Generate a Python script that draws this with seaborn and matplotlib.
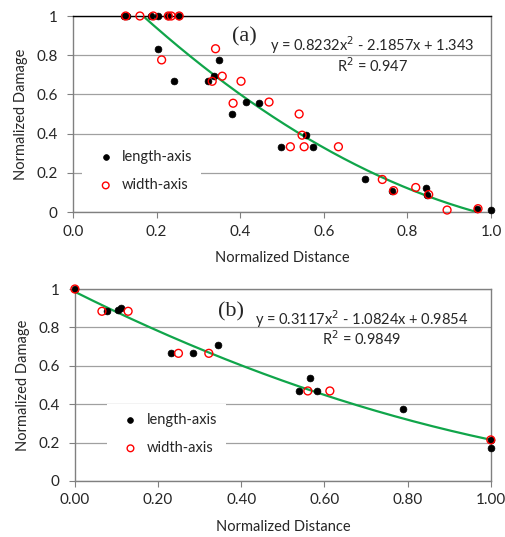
import numpy as np
import pandas as pd
import matplotlib
matplotlib.use("Agg")
import matplotlib.pyplot as plt
import seaborn as sns

sns.set_style("white")
plt.rcParams['font.family'] = ['Lato', 'DejaVu Sans']
plt.rcParams['font.size'] = 10.5

# ---- data panel (a)
a_len_x = [0.122, 0.128, 0.186, 0.203, 0.228, 0.254, 0.203, 0.242, 0.323, 0.338, 0.350, 0.381,
           0.413, 0.445, 0.498, 0.557, 0.573, 0.699, 0.764, 0.845, 0.847, 0.966, 1.000]
a_len_y = [1, 1, 1, 1, 1, 1, 0.833, 0.667, 0.667, 0.693, 0.776, 0.500,
           0.561, 0.555, 0.333, 0.392, 0.333, 0.166, 0.109, 0.125, 0.089, 0.017, 0.010]
a_wid_x = [0.126, 0.160, 0.192, 0.228, 0.235, 0.254, 0.212, 0.341, 0.333, 0.357, 0.402, 0.383,
           0.469, 0.541, 0.548, 0.520, 0.553, 0.635, 0.740, 0.767, 0.820, 0.851, 0.895, 0.969]
a_wid_y = [1, 1, 1, 1, 1, 1, 0.776, 0.833, 0.667, 0.693, 0.667, 0.555,
           0.561, 0.500, 0.392, 0.333, 0.333, 0.333, 0.166, 0.109, 0.125, 0.089, 0.010, 0.017]
a_coef = [0.8232, -2.1857, 1.343]
a_range = [0.16, 0.962]
a_eq = "y = 0.8232x$^{2}$ - 2.1857x + 1.343"
a_r2 = "R$^{2}$ = 0.947"

# ---- data panel (b)
b_len_x = [0.0, 0.078, 0.104, 0.111, 0.231, 0.283, 0.345, 0.539, 0.566, 0.582, 0.788, 1.0, 1.0]
b_len_y = [1.0, 0.884, 0.891, 0.901, 0.665, 0.665, 0.710, 0.469, 0.535, 0.469, 0.375, 0.172, 0.214]
b_wid_x = [0.0, 0.065, 0.128, 0.249, 0.322, 0.560, 0.613, 1.0]
b_wid_y = [1.0, 0.884, 0.884, 0.665, 0.665, 0.469, 0.469, 0.214]
b_coef = [0.3117, -1.0824, 0.9854]
b_range = [0.0, 1.0]
b_eq = "y = 0.3117x$^{2}$ - 1.0824x + 0.9854"
b_r2 = "R$^{2}$ = 0.9849"


def panel(ax, lx, ly, wx, wy, coef, rng, label, eq, r2, xfmt, lab_pos, eq_pos, r2_y, leg_anchor):
    xs = np.linspace(rng[0], rng[1], 200)
    ys = np.polyval(coef, xs)
    sns.lineplot(x=xs, y=ys, ax=ax, color='#10a54a', lw=1.6, zorder=2)
    sns.scatterplot(x=lx, y=ly, ax=ax, color='black', s=24, edgecolor='black',
                    linewidth=0.5, label='length-axis', zorder=3, clip_on=False)
    sns.scatterplot(x=wx, y=wy, ax=ax, facecolor='none', edgecolor='red', s=32,
                    linewidth=1.0, label='width-axis', zorder=4, clip_on=False)
    ax.set_xlim(0, 1)
    ax.set_ylim(0, 1)
    ax.set_yticks([0, 0.2, 0.4, 0.6, 0.8, 1])
    ax.set_yticklabels(['0', '0.2', '0.4', '0.6', '0.8', '1'])
    ax.set_xticks([0, 0.2, 0.4, 0.6, 0.8, 1.0])
    ax.set_xticklabels([xfmt.format(v) for v in [0, 0.2, 0.4, 0.6, 0.8, 1.0]])
    ax.grid(axis='y', color='#a0a0a0', lw=0.9)
    ax.set_axisbelow(True)
    for s in ax.spines.values():
        s.set_color('#808080')
        s.set_linewidth(1.0)
    ax.tick_params(axis='both', direction='out', length=4, color='#808080',
                   bottom=True, left=True, labelsize=11)
    ax.tick_params(axis='y', pad=7)
    ax.tick_params(axis='x', pad=5)
    ax.set_xlabel('Normalized Distance', fontsize=10.5, labelpad=9)
    ax.set_ylabel('Normalized Damage', fontsize=10.5, labelpad=6)
    ax.text(lab_pos[0], lab_pos[1], label, family='Liberation Serif', fontsize=16,
            ha='center', va='center', transform=ax.transAxes)
    ax.text(eq_pos[0], eq_pos[1], eq, fontsize=10.5, ha='center', va='center',
            transform=ax.transAxes)
    ax.text(eq_pos[0], r2_y, r2, fontsize=10.5, ha='center',
            va='center', transform=ax.transAxes)
    leg = ax.legend(loc='upper left', bbox_to_anchor=leg_anchor, frameon=True,
                    fancybox=False, edgecolor='white', framealpha=1,
                    handletextpad=0.1, labelspacing=1.0, borderpad=0.6,
                    fontsize=10.5, markerscale=0.85)
    leg.get_frame().set_linewidth(0)


fig = plt.figure(figsize=(5.06, 5.37), dpi=100)
ax1 = fig.add_axes([0.1443, 0.6052, 0.826, 0.365])
ax2 = fig.add_axes([0.148, 0.1043, 0.822, 0.3575])

panel(ax1, a_len_x, a_len_y, a_wid_x, a_wid_y, a_coef, a_range, '(a)', a_eq, a_r2,
      '{:.1f}', (0.41, 0.893), (0.716, 0.852), 0.745, (0.005, 0.40))
ax1.spines['top'].set_color('black')
panel(ax2, b_len_x, b_len_y, b_wid_x, b_wid_y, b_coef, b_range, '(b)', b_eq, b_r2,
      '{:.2f}', (0.375, 0.88), (0.69, 0.844), 0.74, (0.06, 0.44))

fig.savefig('out.png', dpi=100)
